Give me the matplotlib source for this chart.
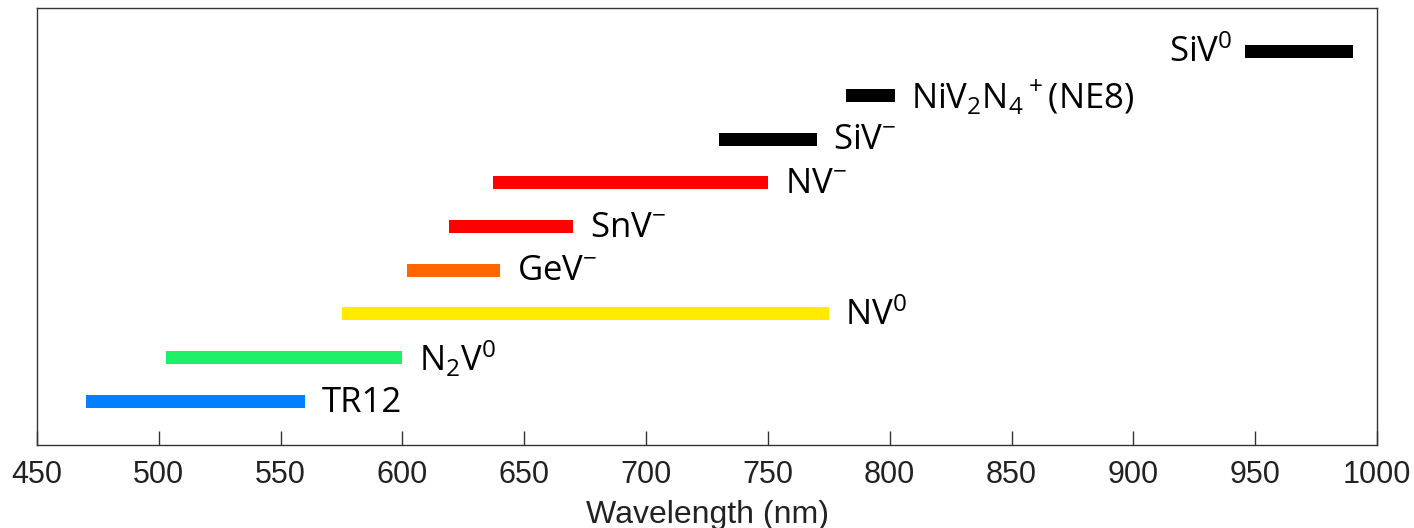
import matplotlib
matplotlib.use("Agg")
import matplotlib.pyplot as plt

# Colour-centre emission ranges (nm), bottom to top
names = [
    "TR12",
    r"N$_2$V$^0$",
    r"NV$^0$",
    r"GeV$^{-}$",
    r"SnV$^{-}$",
    r"NV$^{-}$",
    r"SiV$^{-}$",
    r"NiV$_2$N$_4$$^+$(NE8)",
    r"SiV$^0$",
]
starts = [470, 503, 575, 602, 619, 637, 730, 782, 946]
ends = [560, 600, 775, 640, 670, 750, 770, 802, 990]
colors = ["#0080ff", "#1ef06a", "#ffea00", "#ff6600", "#ff0000",
          "#ff0000", "#000000", "#000000", "#000000"]
label_side = ["right"] * 8 + ["left"]

xticks = list(range(450, 1001, 50))

plt.rcParams["mathtext.default"] = "regular"

fig = plt.figure(figsize=(14.14, 5.28), dpi=100)
ax = fig.add_axes([37 / 1414, 1 - 445 / 528, 1340 / 1414, 437 / 528])

levels = list(range(1, len(names) + 1))
ax.barh(levels, [e - s for s, e in zip(starts, ends)], left=starts,
        height=0.3, color=colors, edgecolor="none")

for y, s, e, name, side in zip(levels, starts, ends, names, label_side):
    if side == "right":
        ax.annotate(name, xy=(e, y), xytext=(12, 2), textcoords="offset points",
                    ha="left", va="center_baseline", fontsize=25,
                    family="Open Sans", color="black")
    else:
        ax.annotate(name, xy=(s, y), xytext=(-9, 2), textcoords="offset points",
                    ha="right", va="center_baseline", fontsize=25,
                    family="Open Sans", color="black")

ax.set_xlim(450, 1000)
ax.set_ylim(0, 10)
ax.set_xticks(xticks)
ax.set_yticks([])
ax.tick_params(axis="x", direction="in", length=10, width=1, color="#333333",
               labelsize=22, pad=11, labelcolor="#222222")
for lab in ax.get_xticklabels():
    lab.set_family("Liberation Sans")
for sp in ax.spines.values():
    sp.set_color("#333333")
    sp.set_linewidth(1)

ax.set_xlabel("Wavelength (nm)", fontsize=23, family="Liberation Sans",
              color="#222222", labelpad=7)

fig.savefig("out.png", dpi=100)
